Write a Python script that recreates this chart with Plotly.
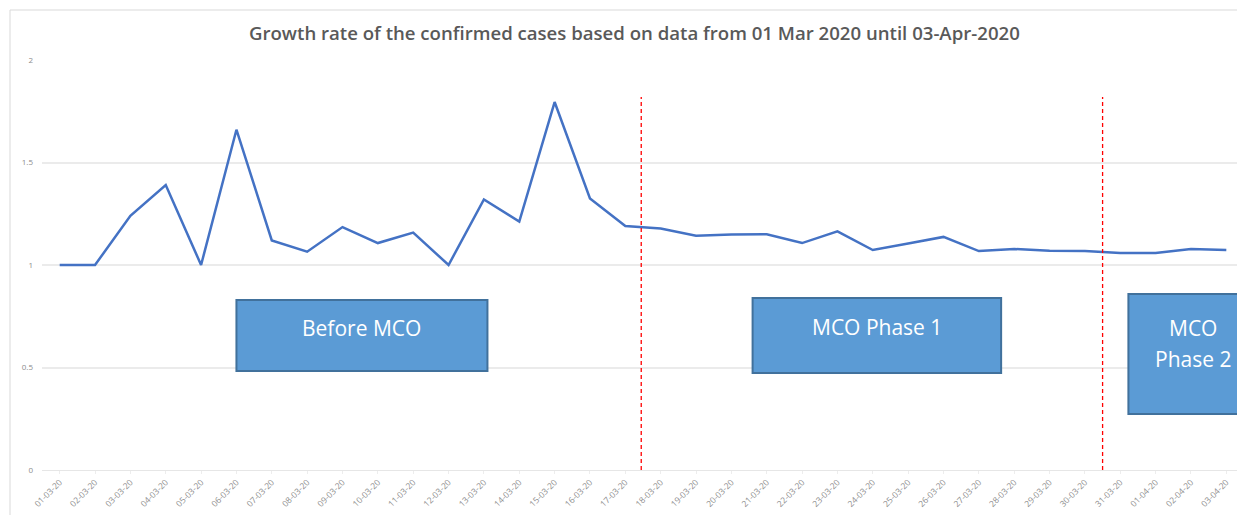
import plotly.graph_objects as go

dates = ["01-03-20", "02-03-20", "03-03-20", "04-03-20", "05-03-20", "06-03-20",
         "07-03-20", "08-03-20", "09-03-20", "10-03-20", "11-03-20", "12-03-20",
         "13-03-20", "14-03-20", "15-03-20", "16-03-20", "17-03-20", "18-03-20",
         "19-03-20", "20-03-20", "21-03-20", "22-03-20", "23-03-20", "24-03-20",
         "25-03-20", "26-03-20", "27-03-20", "28-03-20", "29-03-20", "30-03-20",
         "31-03-20", "01-04-20", "02-04-20", "03-04-20"]
growth = [1.00, 1.00, 1.24, 1.39, 1.00, 1.66,
          1.12, 1.065, 1.185, 1.107, 1.158, 1.00,
          1.32, 1.212, 1.795, 1.325, 1.19, 1.178,
          1.143, 1.149, 1.15, 1.107, 1.164, 1.073,
          1.105, 1.137, 1.068, 1.078, 1.069, 1.068,
          1.058, 1.058, 1.078, 1.073]

phase_labels = ["Before MCO", "MCO Phase 1", "MCO", "Phase 2"]
phase_lines = [16.45, 29.5]

OFF = 8  # page body margin
W, H = 1245 - OFF, 515 - OFF
L, R, T, B = 42 - OFF, 1, 60 - OFF, 45

fig = go.Figure()
fig.add_trace(go.Scatter(
    x=dates, y=growth, mode="lines",
    line=dict(color="#4472C4", width=2.5),
    hoverinfo="x+y", showlegend=False,
))

pw = W - L - R
ph = H - T - B

def px_x(p):
    return (p - OFF - L) / pw

def px_y(p):
    return 1 - (p - OFF - T) / ph

shapes = []
shapes.append(dict(type="rect", xref="paper", yref="paper",
                   x0=px_x(10), x1=px_x(1300), y0=px_y(600), y1=px_y(10),
                   line=dict(color="#D9D9D9", width=1), fillcolor="rgba(0,0,0,0)",
                   layer="below"))
for xv in phase_lines:
    shapes.append(dict(type="line", xref="x", yref="y", x0=xv, x1=xv, y0=0, y1=1.82,
                       line=dict(color="#FF0000", width=1.3, dash="4px,3px")))

boxes = [(5.0, 12.1, 0.483, 0.829), (19.6, 26.63, 0.473, 0.839), (30.23, 34.2, 0.273, 0.859)]
for x0, x1, y0, y1 in boxes:
    shapes.append(dict(type="rect", xref="x", yref="y", x0=x0, x1=x1, y0=y0, y1=y1,
                       fillcolor="#5B9BD5", line=dict(color="#41719C", width=2)))

annotations = [
    dict(x=(5.0 + 12.1) / 2, y=0.695, text=phase_labels[0]),
    dict(x=(19.6 + 26.63) / 2, y=0.70, text=phase_labels[1]),
    dict(x=32.05, y=0.693, text=phase_labels[2]),
    dict(x=32.05, y=0.541, text=phase_labels[3]),
]
for a in annotations:
    a.update(xref="x", yref="y", showarrow=False,
             font=dict(family="Open Sans", size=21, color="white"))

annotations.append(dict(xref="paper", yref="paper", x=px_x(634), y=px_y(33),
                        text="Growth rate of the confirmed cases based on data from 01 Mar 2020 until 03-Apr-2020",
                        showarrow=False, xanchor="center", yanchor="middle",
                        font=dict(family="Open Sans", size=18.6, color="#595959", weight=600)))

fig.update_layout(
    width=W, height=H,
    margin=dict(l=L, r=R, t=T, b=B),
    paper_bgcolor="white", plot_bgcolor="white",
    shapes=shapes, annotations=annotations,
    xaxis=dict(type="category", range=[-0.5, 33.5], tickangle=-45,
               tickfont=dict(family="Open Sans", size=8.5, color="#8C8C8C"),
               showgrid=False, showline=True, linecolor="#E6E6E6", linewidth=1,
               ticks="outside", ticklen=3, tickcolor="#EDEDED", zeroline=False),
    yaxis=dict(range=[0, 2], tickvals=[0, 0.5, 1, 1.5, 2], ticktext=["0", "0.5", "1", "1.5", "2"],
               tickfont=dict(family="Open Sans", size=8, color="#8C8C8C"),
               showgrid=True, gridcolor="#EBEBEB", gridwidth=1.5, zeroline=False,
               ticks="", ticklabelstandoff=8),
)

fig.write_html("out.html")
